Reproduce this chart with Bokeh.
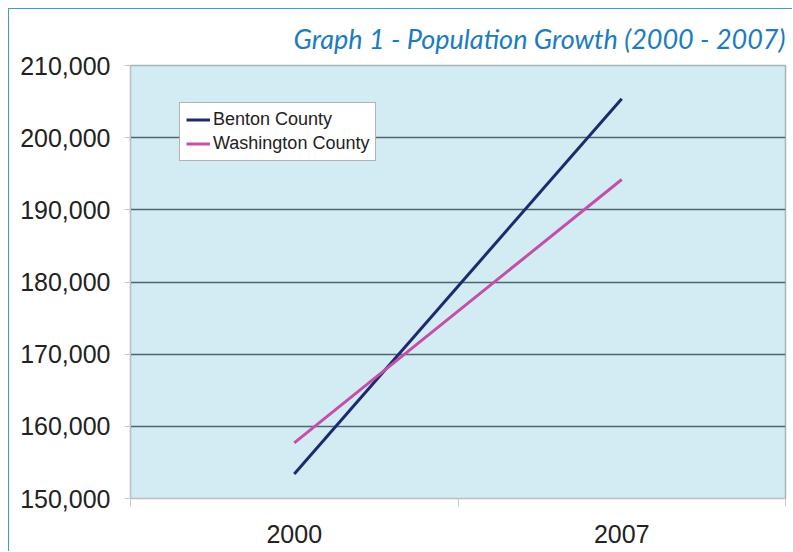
from bokeh.plotting import figure
from bokeh.models import (Range1d, FixedTicker, NumeralTickFormatter, Legend, LegendItem, Title)
from bokeh.embed import file_html
from bokeh.resources import INLINE

years = ["2000", "2007"]
benton = [153400, 205400]
washington = [157700, 194200]
y_ticks = [150000, 160000, 170000, 180000, 190000, 200000, 210000]
title_text = "Graph 1 - Population Growth (2000 - 2007)"

xs = [i + 0.5 for i in range(len(years))]

p = figure(width=784, height=543, output_backend="svg", toolbar_location=None,
           x_range=Range1d(0, len(years)), y_range=Range1d(y_ticks[0], y_ticks[-1]),
           min_border_left=121, min_border_right=8, min_border_top=55, min_border_bottom=54)
p.styles = {"margin-left": "8px", "margin-top": "8px",
            "border-left": "1px solid #3f9ad6", "border-top": "1px solid #3f9ad6"}
p.title = None
p.background_fill_color = "#d3ecf3"
p.border_fill_color = "white"
p.outline_line_color = "#a9b4b8"
p.outline_line_width = 1.5

# Title
t = Title(text=title_text, align="right", text_font="Lato", text_font_style="italic",
          text_font_size="27px", text_color="#1b7cc2", standoff=21, offset=0)
p.add_layout(t, "above")

# Y axis
p.yaxis.ticker = FixedTicker(ticks=y_ticks)
p.yaxis.formatter = NumeralTickFormatter(format="0,0")
p.yaxis.major_label_text_font = "Liberation Sans"
p.yaxis.major_label_text_font_size = "25px"
p.yaxis.major_label_text_color = "#222222"
p.yaxis.major_label_standoff = 14
p.yaxis.major_tick_out = 6
p.yaxis.major_tick_in = 0
p.yaxis.major_tick_line_color = "#c8c8c8"
p.yaxis.minor_tick_line_color = None
p.yaxis.axis_line_color = "#c0c0c0"

# X axis
p.xaxis.ticker = FixedTicker(ticks=xs, minor_ticks=list(range(len(years) + 1)))
p.xaxis.major_label_overrides = {x: y for x, y in zip(xs, years)}
p.xaxis.major_label_text_font = "Liberation Sans"
p.xaxis.major_label_text_font_size = "25px"
p.xaxis.major_label_text_color = "#222222"
p.xaxis.major_label_standoff = 18
p.xaxis.major_tick_line_color = None
p.xaxis.minor_tick_out = 8
p.xaxis.minor_tick_in = 0
p.xaxis.minor_tick_line_color = "#c8c8c8"
p.xaxis.axis_line_color = "#c0c0c0"

p.xgrid.grid_line_color = None
p.ygrid.ticker = FixedTicker(ticks=y_ticks)
p.ygrid.grid_line_color = "#4d6670"
p.ygrid.grid_line_width = 1.3

r1 = p.line(xs, benton, line_color="#1f2a6e", line_width=3)
r2 = p.line(xs, washington, line_color="#c250a9", line_width=3)

legend = Legend(items=[LegendItem(label="Benton County", renderers=[r1]),
                       LegendItem(label="Washington County", renderers=[r2])],
                location=(49, 337), label_text_font="Liberation Sans",
                label_text_font_size="18px", label_text_color="#222222",
                glyph_width=24, glyph_height=21, label_standoff=3, spacing=3,
                padding=6, margin=0, label_height=21,
                background_fill_color="white", background_fill_alpha=1,
                border_line_color="#666666", border_line_width=1.2)
p.add_layout(legend, "center")

open("out.html", "w").write(file_html(p, INLINE))
